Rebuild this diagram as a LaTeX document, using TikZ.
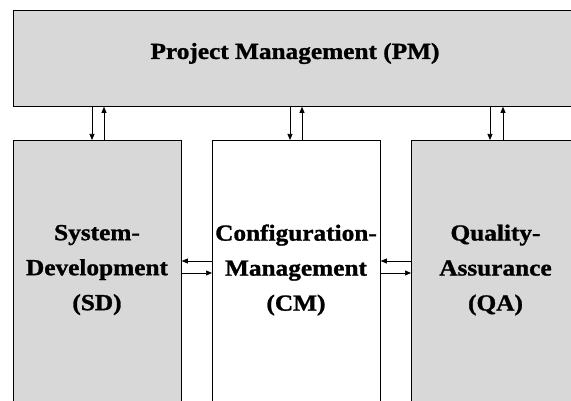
\documentclass[tikz,border=0pt]{standalone}
\usepackage{fontspec}
\setmainfont{Liberation Serif}
\newfontfamily\boxfont[FakeStretch=1.1,FakeBold=1.2]{Liberation Serif}
\usetikzlibrary{arrows.meta}
\definecolor{boxgray}{RGB}{216,216,216}
\begin{document}
\begin{tikzpicture}[x=1pt,y=-1pt,
  blk/.style={draw=black,line width=0.8pt,inner sep=0pt,anchor=north west},
  lbl/.style={font=\boxfont\bfseries\fontsize{23}{35}\selectfont,align=center,inner sep=0pt},
  arr/.style={line width=0.7pt,-{Triangle[length=6pt,width=5pt]}}]
\path[use as bounding box,clip] (0,0) rectangle (571,401);
\fill[white] (0,0) rectangle (571,401);
% boxes
\node[blk,fill=boxgray,minimum width=564pt,minimum height=96pt] (pm) at (13,10) {};
\node[blk,fill=boxgray,minimum width=168pt,minimum height=280pt] (sd) at (13,140) {};
\node[blk,fill=white,minimum width=168pt,minimum height=280pt] (cm) at (212,140) {};
\node[blk,fill=boxgray,minimum width=169pt,minimum height=280pt] (qa) at (411,140) {};
% labels
\node[lbl] (pmt) at (295,53.5) {Project Management (PM)};
\node[lbl] (sdt) at (97,270) {System-\\Development\\(SD)};
\node[lbl] (cmt) at (296,270) {Configuration-\\Management\\(CM)};
\node[lbl] (qat) at (495.5,270) {Quality-\\Assurance\\(QA)};
% arrow positions
\coordinate (a1) at (92,0);  \coordinate (b1) at (104,0);
\coordinate (a2) at (290,0); \coordinate (b2) at (302,0);
\coordinate (a3) at (490,0); \coordinate (b3) at (503,0);
\coordinate (hu) at (0,261); \coordinate (hl) at (0,273);
% vertical arrows
\draw[arr] (pm.south -| a1) -- (sd.north -| a1);
\draw[arr] (sd.north -| b1) -- (pm.south -| b1);
\draw[arr] (pm.south -| a2) -- (cm.north -| a2);
\draw[arr] (cm.north -| b2) -- (pm.south -| b2);
\draw[arr] (pm.south -| a3) -- (qa.north -| a3);
\draw[arr] (qa.north -| b3) -- (pm.south -| b3);
% horizontal arrows
\draw[arr] (cm.west |- hu) -- (sd.east |- hu);
\draw[arr] (sd.east |- hl) -- (cm.west |- hl);
\draw[arr] (qa.west |- hu) -- (cm.east |- hu);
\draw[arr] (cm.east |- hl) -- (qa.west |- hl);
\end{tikzpicture}
\end{document}
